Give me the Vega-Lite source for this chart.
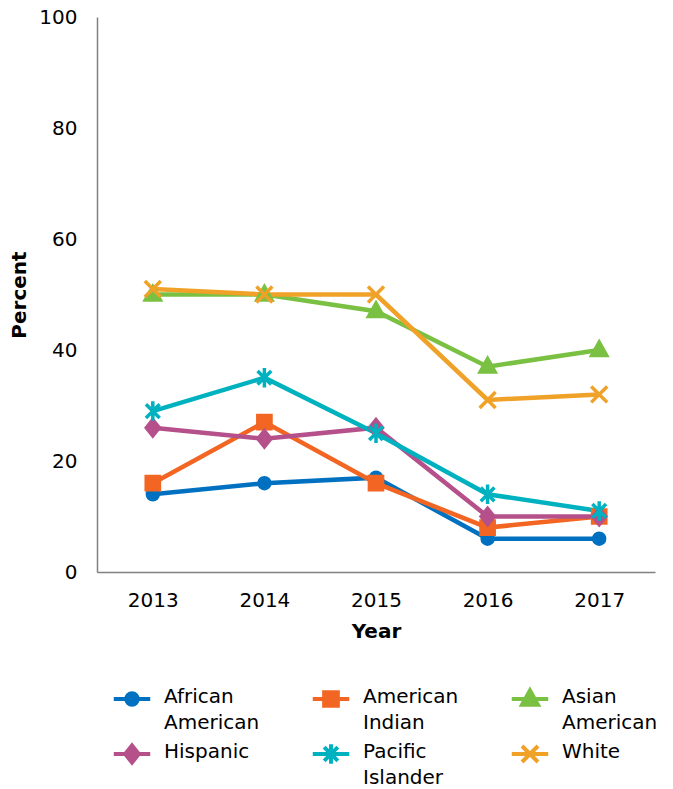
{
  "$schema": "https://vega.github.io/schema/vega-lite/v6.json",
  "autosize": "none",
  "width": 558,
  "height": 555,
  "padding": {"left": 97, "top": 17, "right": 18, "bottom": 217},
  "background": "white",
  "config": {
    "font": "DejaVu Sans",
    "view": {"stroke": null}
  },
  "data": {
    "values": [
      {"Year": "2013", "Group": "African American", "Percent": 14},
      {"Year": "2014", "Group": "African American", "Percent": 16},
      {"Year": "2015", "Group": "African American", "Percent": 17},
      {"Year": "2016", "Group": "African American", "Percent": 6},
      {"Year": "2017", "Group": "African American", "Percent": 6},
      {"Year": "2013", "Group": "American Indian", "Percent": 16},
      {"Year": "2014", "Group": "American Indian", "Percent": 27},
      {"Year": "2015", "Group": "American Indian", "Percent": 16},
      {"Year": "2016", "Group": "American Indian", "Percent": 8},
      {"Year": "2017", "Group": "American Indian", "Percent": 10},
      {"Year": "2013", "Group": "Asian American", "Percent": 50},
      {"Year": "2014", "Group": "Asian American", "Percent": 50},
      {"Year": "2015", "Group": "Asian American", "Percent": 47},
      {"Year": "2016", "Group": "Asian American", "Percent": 37},
      {"Year": "2017", "Group": "Asian American", "Percent": 40},
      {"Year": "2013", "Group": "Hispanic", "Percent": 26},
      {"Year": "2014", "Group": "Hispanic", "Percent": 24},
      {"Year": "2015", "Group": "Hispanic", "Percent": 26},
      {"Year": "2016", "Group": "Hispanic", "Percent": 10},
      {"Year": "2017", "Group": "Hispanic", "Percent": 10},
      {"Year": "2013", "Group": "Pacific Islander", "Percent": 29},
      {"Year": "2014", "Group": "Pacific Islander", "Percent": 35},
      {"Year": "2015", "Group": "Pacific Islander", "Percent": 25},
      {"Year": "2016", "Group": "Pacific Islander", "Percent": 14},
      {"Year": "2017", "Group": "Pacific Islander", "Percent": 11},
      {"Year": "2013", "Group": "White", "Percent": 51},
      {"Year": "2014", "Group": "White", "Percent": 50},
      {"Year": "2015", "Group": "White", "Percent": 50},
      {"Year": "2016", "Group": "White", "Percent": 31},
      {"Year": "2017", "Group": "White", "Percent": 32}
    ]
  },
  "encoding": {
    "x": {
      "field": "Year",
      "type": "ordinal",
      "scale": {"type": "point", "padding": 0.5},
      "axis": {
        "title": "Year",
        "titleFontSize": 20,
        "titleFontWeight": "bold",
        "titleColor": "black",
        "titlePadding": 11,
        "labelAngle": 0,
        "labelFontSize": 20,
        "labelColor": "black",
        "labelPadding": 18,
        "ticks": false,
        "domainColor": "#808080",
        "domainWidth": 1.5,
        "grid": false
      }
    },
    "y": {
      "field": "Percent",
      "type": "quantitative",
      "scale": {"domain": [0, 100]},
      "axis": {
        "title": "Percent",
        "values": [0, 20, 40, 60, 80, 100],
        "titleFontSize": 20,
        "titleFontWeight": "bold",
        "titleColor": "black",
        "titlePadding": 9,
        "labelFontSize": 20,
        "labelColor": "black",
        "labelPadding": 20,
        "ticks": false,
        "domainColor": "#808080",
        "domainWidth": 1.5,
        "grid": false
      }
    },
    "stroke": {
      "field": "Group",
      "type": "nominal",
      "scale": {
        "domain": ["African American", "American Indian", "Asian American", "Hispanic", "Pacific Islander", "White"],
        "range": ["#0070C0", "#F26522", "#7AC143", "#B5508A", "#00B2C0", "#F0A128"]
      },
      "legend": {
        "title": null,
        "orient": "none",
        "legendX": 25,
        "legendY": 672,
        "columns": 3,
        "direction": "horizontal",
        "columnPadding": 44,
        "rowPadding": 3,
        "symbolSize": 130,
        "symbolStrokeWidth": 4,
        "symbolOffset": 0,
        "labelOffset": 22,
        "labelFontSize": 20,
        "labelColor": "black",
        "labelBaseline": "top",
        "labelExpr": "split(datum.label, ' ')",
        "encode": {
          "symbols": {
            "update": {
              "shape": {"signal": "datum.value == 'African American' ? 'M-3.2,0L3.2,0M1,0A1,1 0 1,1 -1,0A1,1 0 1,1 1,0Z' : datum.value == 'American Indian' ? 'M-3.2,0L3.2,0M-1.2,-1.2H1.2V1.2H-1.2Z' : datum.value == 'Asian American' ? 'M-3.2,0L3.2,0M0,-1.5L1.4,1L-1.4,1Z' : datum.value == 'Hispanic' ? 'M-3.2,0L3.2,0M0,-1.5L1.2,0L0,1.5L-1.2,0Z' : datum.value == 'Pacific Islander' ? 'M-3.2,0L3.2,0M0,-1.7L0,1.7M-1.2,-1.2L1.2,1.2M-1.2,1.2L1.2,-1.2' : 'M-3.2,0L3.2,0M-1.4,-1.4L1.4,1.4M-1.4,1.4L1.4,-1.4'"},
              "fill": {"scale": "stroke", "field": "value"},
              "strokeWidth": {"value": 4}
            }
          },
          "labels": {
            "update": {
              "dy": {"value": -12},
              "lineHeight": {"value": 26}
            }
          }
        }
      }
    }
  },
  "layer": [
    {
      "mark": {"type": "line", "strokeWidth": 4.5}
    },
    {
      "transform": [{"filter": "datum.Group == 'African American'"}],
      "mark": {"type": "point", "filled": true, "size": 130, "strokeWidth": 3, "opacity": 1, "shape": "M1,0A1,1 0 1,1 -1,0A1,1 0 1,1 1,0Z", "fill": "#0070C0"}
    },
    {
      "transform": [{"filter": "datum.Group == 'American Indian'"}],
      "mark": {"type": "point", "filled": true, "size": 130, "strokeWidth": 3, "opacity": 1, "shape": "M-1.2,-1.2H1.2V1.2H-1.2Z", "fill": "#F26522"}
    },
    {
      "transform": [{"filter": "datum.Group == 'Asian American'"}],
      "mark": {"type": "point", "filled": true, "size": 130, "strokeWidth": 3, "opacity": 1, "shape": "M0,-1.5L1.4,1L-1.4,1Z", "fill": "#7AC143"}
    },
    {
      "transform": [{"filter": "datum.Group == 'Hispanic'"}],
      "mark": {"type": "point", "filled": true, "size": 130, "strokeWidth": 3, "opacity": 1, "shape": "M0,-1.5L1.2,0L0,1.5L-1.2,0Z", "fill": "#B5508A"}
    },
    {
      "transform": [{"filter": "datum.Group == 'Pacific Islander'"}],
      "mark": {"type": "point", "filled": true, "size": 130, "strokeWidth": 3.5, "opacity": 1, "shape": "M0,-1.7L0,1.7M-1.2,-1.2L1.2,1.2M-1.2,1.2L1.2,-1.2", "fill": "#00B2C0"}
    },
    {
      "transform": [{"filter": "datum.Group == 'White'"}],
      "mark": {"type": "point", "filled": true, "size": 130, "strokeWidth": 3.5, "opacity": 1, "shape": "M-1.4,-1.4L1.4,1.4M-1.4,1.4L1.4,-1.4", "fill": "#F0A128"}
    }
  ]
}
